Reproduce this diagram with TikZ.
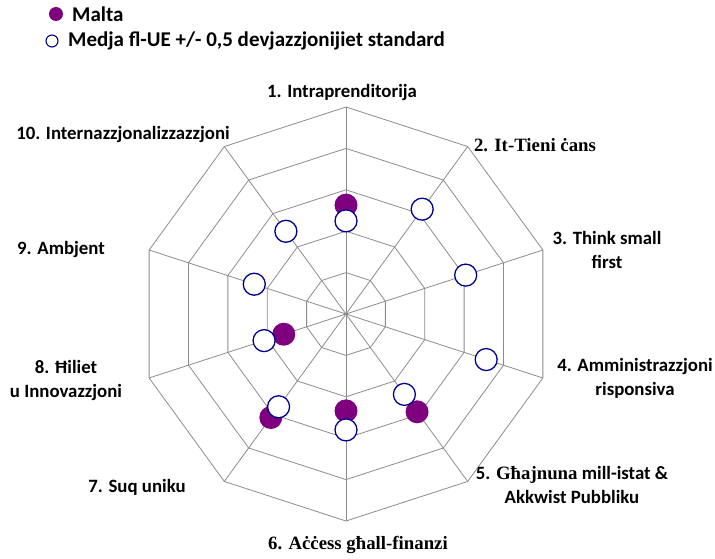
\documentclass[tikz,border=0pt]{standalone}
\usepackage{fontspec}
\setmainfont{Carlito}
\newfontfamily\serifbf{Liberation Serif}
\definecolor{maltapurple}{HTML}{7F007F}
\definecolor{eunavy}{HTML}{000090}
\definecolor{gridgray}{HTML}{8C8C8C}
\tikzset{
  axislabel/.style={font=\fontsize{18.8}{24}\selectfont\bfseries,align=center,inner sep=0pt},
  legendtext/.style={font=\fontsize{21}{24}\selectfont\bfseries,anchor=west,inner sep=0pt},
  maltadot/.style={color=maltapurple},
  eudot/.style={line width=1.3pt,color=eunavy,fill=white}
}
\begin{document}
\begin{tikzpicture}[x=1pt,y=1pt]
\useasboundingbox (-346,-244) rectangle (369,314);
\coordinate (O) at (0,0);
\foreach \r in {1,...,5}{
\draw[color=gridgray,line width=0.8pt] (90:{41.4*\r}) \foreach \k in {1,...,9}{ -- ({90-36*\k}:{41.4*\r})} -- cycle;
}
\foreach \k in {0,...,9}{
\draw[color=gridgray,line width=0.8pt] (O)--({90-36*\k}:207);
}
\foreach \n/\v in {1/2.63,5/2.92,6/2.34,7/3.09,8/1.58}{
\fill[maltadot] ({90-36*(\n-1)}:{41.4*\v}) circle[radius=11.5];
}
\foreach \n/\v in {1/2.25,2/3.13,3/3.04,4/3.56,5/2.40,6/2.80,7/2.77,8/2.08,9/2.33,10/2.47}{
\draw[eudot] ({90-36*(\n-1)}:{41.4*\v}) circle[radius=11];
}
\node[axislabel] (L1) at (-4,222) {1. Intraprenditorija};
\node[axislabel] (L2) at (189,169) {\serifbf 2. It-Tieni ċans};
\node[axislabel] (L3) at (261,64) {3. Think small\\first};
\node[axislabel] (L4) at (289,-64) {4. Amministrazzjoni\\risponsiva};
\node[axislabel] (L5) at (226,-171) {5. {\serifbf Għajnuna} mill-istat \&\\Akkwist Pubbliku};
\node[axislabel] (L6) at (12,-231) {\serifbf 6. Aċċess għall-finanzi};
\node[axislabel] (L7) at (-209,-173) {7. Suq uniku};
\node[axislabel] (L8) at (-280,-66) {8. Ħiliet\\u Innovazzjoni};
\node[axislabel] (L9) at (-285,65) {9. Ambjent};
\node[axislabel] (L10) at (-223,180) {10. Internazzjonalizzazzjoni};
% legend
\fill[maltadot] (-290,300) circle[radius=7];
\node[legendtext] (malta) at (-274,300) {Malta};
\draw[eudot,line width=1.1pt] (-294,273) circle[radius=6];
\node[legendtext] (medja) at (-278,273) {Medja fl-UE +/- 0,5 devjazzjonijiet standard};
\end{tikzpicture}
\end{document}
